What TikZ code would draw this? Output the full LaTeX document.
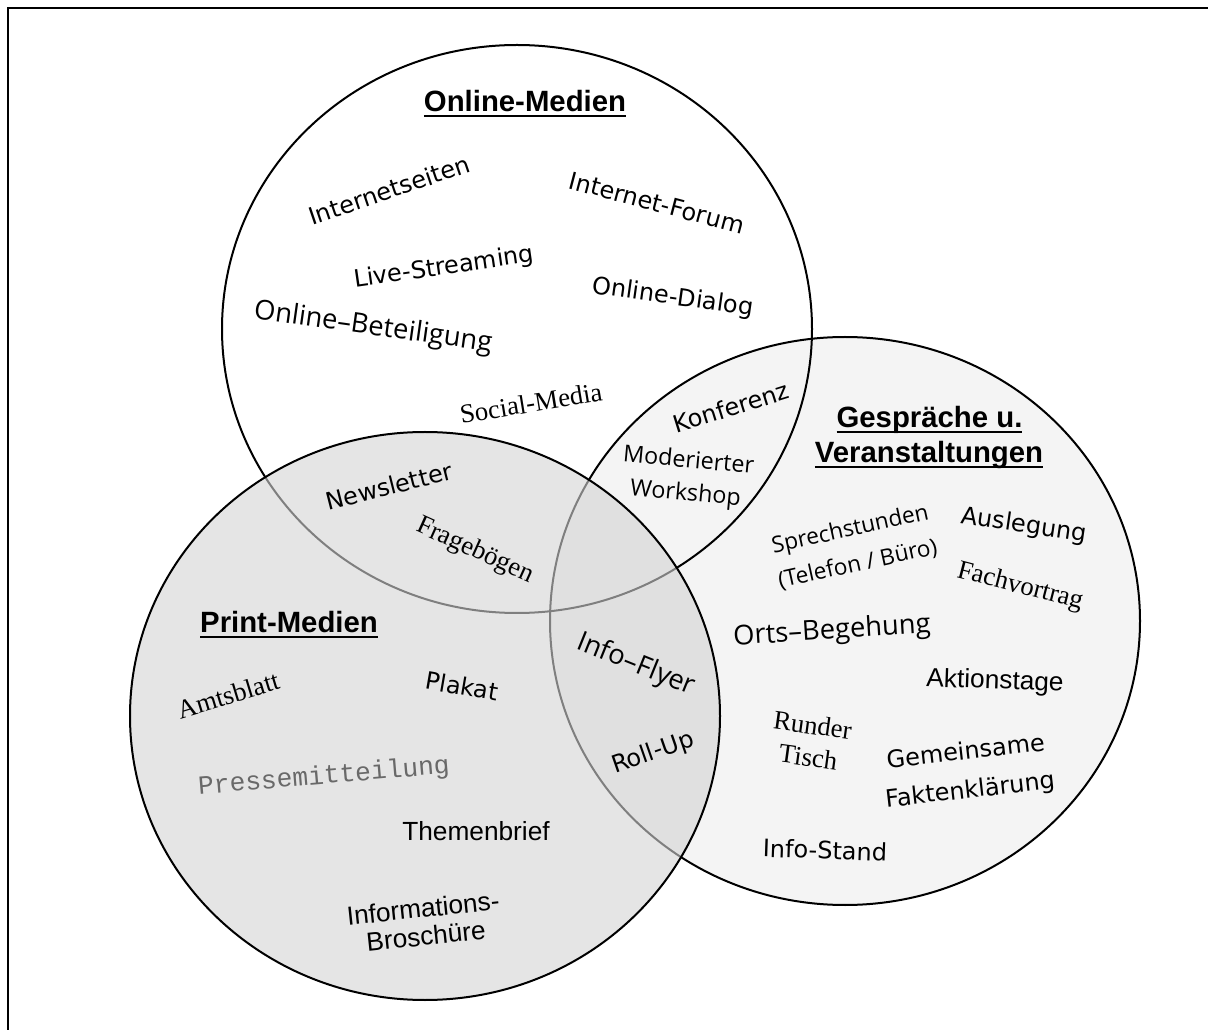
\documentclass[tikz,border=0pt]{standalone}
\usepackage{fontspec}
\setmainfont{Liberation Serif}
\newfontfamily\headfont{Liberation Sans}
\newfontfamily\comicfont{DejaVu Sans}
\newfontfamily\segoefont{Open Sans}
\newfontfamily\timesfont{Liberation Serif}
\newfontfamily\courfont{Liberation Mono}
\usepackage{xcolor}

\definecolor{gespfill}{RGB}{244,244,244}
\definecolor{printfill}{RGB}{212,212,212}
\definecolor{pressgray}{RGB}{105,105,105}

\newcommand{\ulhead}[1]{\setbox0\hbox{#1}\leavevmode\rlap{\rule[-3.6pt]{\wd0}{1.4pt}}\box0}

\tikzset{
  circline/.style={draw=black, line width=1.5pt},
  headtxt/.style={font={\headfont\bfseries\fontsize{22}{28}\selectfont}, anchor=base, inner sep=0.75pt},
  comictxt/.style={font={\comicfont\fontsize{18}{22}\selectfont}, inner sep=0.75pt},
  segoetxt/.style={font={\segoefont\fontsize{20.5}{25}\selectfont}, inner sep=0.75pt},
  segoesmall/.style={font={\segoefont\fontsize{17}{25}\selectfont}, align=center, inner sep=0.75pt},
  timestxt/.style={font={\timesfont\fontsize{20}{24}\selectfont}, align=center, inner sep=0.75pt},
  courtxt/.style={font={\courfont\fontsize{19.7}{24}\selectfont}, text=pressgray, inner sep=0.75pt},
  arialtxt/.style={font={\headfont\fontsize{19.7}{21}\selectfont}, align=center, inner sep=0.75pt}
}

\begin{document}
\begin{tikzpicture}[x=0.75pt,y=0.75pt,yscale=-1,xscale=1]
\useasboundingbox (0,0) rectangle (1208,1030);

%Frame
\draw [line width=1.9pt] (8,8) rectangle (1214,1040);

\coordinate (conline) at (517,329);
\coordinate (cprint) at (425,716);
\coordinate (cgesp) at (845,621);

%Shape: Ellipse (Online-Medien)
\fill [white] (conline) ellipse [x radius=295, y radius=284];
%Shape: Ellipse (Gespraeche)
\fill [gespfill] (cgesp) ellipse [x radius=295, y radius=284];
\draw [circline] (conline) ellipse [x radius=295, y radius=284];
\draw [circline] (cgesp) ellipse [x radius=295, y radius=284];
%Shape: Ellipse (Print-Medien)
\fill [printfill, fill opacity=0.6] (cprint) ellipse [x radius=295, y radius=284];
\draw [circline] (cprint) ellipse [x radius=295, y radius=284];

% Text Node
\node [headtxt] (onlinehead) at (525,112) {\ulhead{Online-Medien}};
\node [comictxt, rotate=18.8] (internetseiten) at (389,190) {Internetseiten};
\node [comictxt, rotate=-14.8] (forum) at (657,203) {Internet-Forum};
\node [comictxt, rotate=8.2] (streaming) at (444,268) {Live-Streaming};
\node [comictxt, rotate=-8] (dialog) at (673,298) {Online-Dialog};
\node [segoetxt, rotate=-8] (beteiligung) at (373,328) {Online–Beteiligung};
\node [timestxt, rotate=9.3] (social) at (531,403) {Social-Media};
\node [comictxt, rotate=17.3] (konferenz) at (731,407) {Konferenz};
\node [segoesmall, font={\segoefont\fontsize{17.5}{24.7}\selectfont}, rotate=-5.4] (workshop) at (687,478) {Moderierter\\Workshop};

% Text Node
\node [headtxt] (printhead) at (289,633) {\ulhead{Print-Medien}};
\node [comictxt, rotate=14.2] (newsletter) at (389,486) {Newsletter};
\node [timestxt, rotate=-24.3] (frageboegen) at (475,551) {Fragebögen};
\node [timestxt, rotate=16.9] (amtsblatt) at (228,695) {Amtsblatt};
\node [comictxt, rotate=-9.7] (plakat) at (462,686) {Plakat};
\node [courtxt, rotate=4.8] (presse) at (324,777) {Pressemitteilung};
\node [arialtxt] (themenbrief) at (476,831) {Themenbrief};
\node [arialtxt, rotate=6] (broschuere) at (424.5,922) {Informations-\\Broschüre};
\node [segoetxt, rotate=-22] (flyer) at (636,665) {Info–Flyer};
\node [comictxt, rotate=19.2] (rollup) at (653,753) {Roll-Up};

% Text Node
\node [headtxt] (gesphead) at (929.5,428) {\ulhead{Gespräche u.}};
\node [headtxt] (veranst) at (929,463) {\ulhead{Veranstaltungen}};
\node [segoesmall, font={\segoefont\fontsize{17}{26.7}\selectfont}, rotate=12.4] (sprech) at (854,547) {Sprechstunden\\(Telefon / Büro)};
\node [comictxt, rotate=-8.3] (auslegung) at (1024,526) {Auslegung};
\node [timestxt, rotate=-14.5] (fach) at (1020,587) {Fachvortrag};
\node [segoetxt, rotate=3.6] (orts) at (832,632) {Orts–Begehung};
\node [arialtxt, rotate=-2] (aktion) at (995,682) {Aktionstage};
\node [timestxt, rotate=-7.8] (runder) at (810.5,741) {Runder\\Tisch};
\node [comictxt, font={\comicfont\fontsize{18}{29}\selectfont}, align=center, rotate=6.5] (fakten) at (968,772) {Gemeinsame\\Faktenklärung};
\node [comictxt, rotate=-2] (stand) at (825,850) {Info-Stand};

\end{tikzpicture}
\end{document}
